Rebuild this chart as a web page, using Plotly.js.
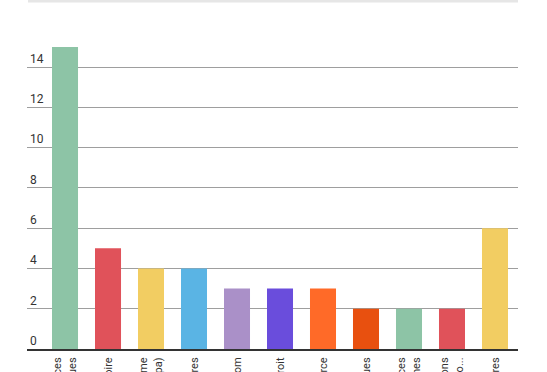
<!DOCTYPE html>
<html>
<head>
<meta charset="utf-8">
<script src="https://cdn.plot.ly/plotly-3.0.1.min.js"></script>
<style>html,body{margin:0;padding:0;background:#fff;}#chart{width:547px;height:372px;}</style>
</head>
<body>
<div id="chart"></div>
<script>
const categories = [
  "Sciences<br>politiques",
  "Histoire",
  "Urbanisme<br>(ex-Ensapa)",
  "Lettres",
  "Infocom",
  "Droit",
  "Commerce",
  "Mathématiques",
  "Arts et sciences<br>des systèmes",
  "Relations<br>internationales et diplo...",
  "Autres"
];
const values = [15, 5, 4, 4, 3, 3, 3, 2, 2, 2, 6];
const colors = ["#8DC4A6", "#E0525A", "#F2CD62", "#5AB4E4", "#AA90C8", "#6A4DDC", "#FF6A28", "#E8500F", "#8DC4A6", "#E0525A", "#F2CD62"];
const yTicks = [0, 2, 4, 6, 8, 10, 12, 14];

const trace = {
  type: "bar",
  x: categories.map((c, i) => i),
  y: values,
  marker: {color: colors},
  hoverinfo: "skip"
};

const layout = {
  width: 547,
  height: 372,
  margin: {l: 27, r: 29, t: 47, b: 23, pad: 0},
  paper_bgcolor: "#fff",
  plot_bgcolor: "#fff",
  bargap: 0.395,
  showlegend: false,
  font: {family: "Roboto, sans-serif", size: 12, color: "#333"},
  xaxis: {
    range: [-0.884, 10.535],
    tickmode: "array",
    tickvals: categories.map((c, i) => i),
    ticktext: categories,
    tickangle: -90,
    ticklabelstandoff: 2,
    showgrid: false,
    zeroline: false,
    showline: true,
    linecolor: "#333",
    linewidth: 2,
    ticks: "",
    automargin: false,
    tickfont: {family: "Roboto, sans-serif", size: 11, color: "#333"}
  },
  yaxis: {
    range: [0, 15],
    tickmode: "array",
    tickvals: yTicks,
    ticktext: yTicks.map(String),
    ticklabelposition: "inside top",
    showgrid: true,
    gridcolor: "#9e9e9e",
    gridwidth: 1,
    zeroline: false,
    showline: false,
    ticks: "",
    automargin: false,
    tickfont: {family: "Roboto, sans-serif", size: 12, color: "#333"}
  },
  shapes: [{
    type: "line",
    xref: "paper", yref: "paper",
    x0: 0.002, x1: 1, y0: (349 - 1.2) / 302, y1: (349 - 1.2) / 302,
    line: {color: "#e6e6e6", width: 2.5}
  }]
};

Plotly.newPlot("chart", [trace], layout, {displayModeBar: false, staticPlot: true});
</script>
</body>
</html>
